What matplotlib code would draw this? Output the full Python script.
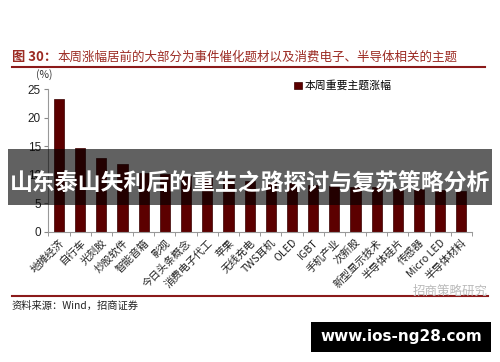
import matplotlib
matplotlib.use("Agg")
import matplotlib.pyplot as plt
from matplotlib.patches import Rectangle
from matplotlib.lines import Line2D
import numpy as np

plt.rcParams['font.family'] = ['Noto Sans CJK SC', 'DejaVu Sans']

categories = ["地摊经济", "自行车", "光刻胶", "炒股软件", "智能音箱", "影视", "今日头条概念",
              "消费电子代工", "苹果", "无线充电", "TWS耳机", "OLED", "IGBT", "手机产业",
              "次新股", "新型显示技术", "半导体硅片", "传感器", "Micro LED", "半导体材料"]
values = [23.3, 14.7, 12.9, 11.9, 10.4, 10.1, 9.8, 9.5, 9.3, 9.0, 8.8, 8.5, 8.3, 8.1,
          7.9, 7.8, 7.6, 7.5, 7.3, 7.2]
yticks = [0, 5, 10, 15, 20, 25]
series_name = "本周重要主题涨幅"
title_prefix = "图 30："
title_text = "本周涨幅居前的大部分为事件催化题材以及消费电子、半导体相关的主题"
source_text = "资料来源：Wind，招商证券"
banner_text = "山东泰山失利后的重生之路探讨与复苏策略分析"
site_text = "www.ios-ng28.com"
watermark_text = "招商策略研究"

W, H = 500, 362
fig = plt.figure(figsize=(W / 100, H / 100), dpi=100)
ax = fig.add_axes([48 / W, 1 - 232 / H, (472 - 48) / W, (232 - 89) / H])

bar_color = "#5c0000"
x = np.arange(len(categories))
ax.bar(x, values, width=0.48, color=bar_color, edgecolor="#3a0000", linewidth=0.5,
       label=series_name, zorder=2)
ax.set_xlim(-0.52, len(categories) - 0.6)
ax.set_ylim(0, 25)
ax.set_yticks(yticks)
ax.set_yticklabels([str(t) for t in yticks], fontsize=8.5, family="Liberation Sans", color="#222222")
ax.set_xticks(x)
ax.set_xticklabels(categories, rotation=45, ha="right", rotation_mode="anchor",
                   fontsize=7.6, color="#222222")
ax.tick_params(axis="x", length=0, pad=4)
ax.set_xticks(np.arange(len(categories) + 1) - 0.5, minor=True)
ax.tick_params(axis="x", which="minor", length=3, color="#888888", direction="out")
ax.tick_params(axis="y", length=3, color="#888888", direction="out", pad=2)
for s in ["top", "right"]:
    ax.spines[s].set_visible(False)
for s in ["left", "bottom"]:
    ax.spines[s].set_color("#999999")
    ax.spines[s].set_linewidth(0.8)

ax.text(-0.01, 1.06, "(%)", transform=ax.transAxes, fontsize=7.5, ha="center", va="bottom",
        color="#333333")

leg = ax.legend(loc="upper left", bbox_to_anchor=(0.57, 1.09), frameon=False, fontsize=7.8,
                handlelength=0.7, handleheight=0.7, handletextpad=0.3, borderaxespad=0)

# title and rules
fig.text(12 / W, 1 - 57 / H, title_prefix, fontsize=9.5, color="#9b2a22", fontweight="bold",
         ha="left", va="center")
fig.text(57 / W, 1 - 57 / H, title_text, fontsize=9.0, color="#9b2a22", ha="left", va="center")
fig.add_artist(Line2D([12 / W, 485 / W], [1 - 67 / H, 1 - 67 / H], color="#8b1a1a", lw=1.5))
fig.add_artist(Line2D([12 / W, 488 / W], [1 - 296 / H, 1 - 296 / H], color="#8b1a1a", lw=1.5))
fig.text(12 / W, 1 - 306 / H, source_text, fontsize=7.4, color="#222222", ha="left", va="center")
fig.text(488 / W, 1 - 291 / H, watermark_text, fontsize=9, color="#bbbbbb", ha="right",
         va="center")

# banner (covers part of the chart, as in the reference)
fig.add_artist(Rectangle((8 / W, 1 - 205 / H), 484 / W, 56 / H, transform=fig.transFigure,
                         facecolor="black", alpha=0.62, edgecolor="none", zorder=5))
fig.text(250 / W, 1 - 184 / H, banner_text, fontsize=16.5, color="white", fontweight="bold",
         ha="center", va="center", zorder=6)

# site box
fig.add_artist(Rectangle((311 / W, 1 - 352 / H), 180 / W, 30 / H, transform=fig.transFigure,
                         facecolor="black", edgecolor="none"))
fig.text(401 / W, 1 - 337 / H, site_text, fontsize=11, color="white", fontweight="bold",
         family="DejaVu Sans", ha="center", va="center")

fig.savefig("out.png", dpi=100)
